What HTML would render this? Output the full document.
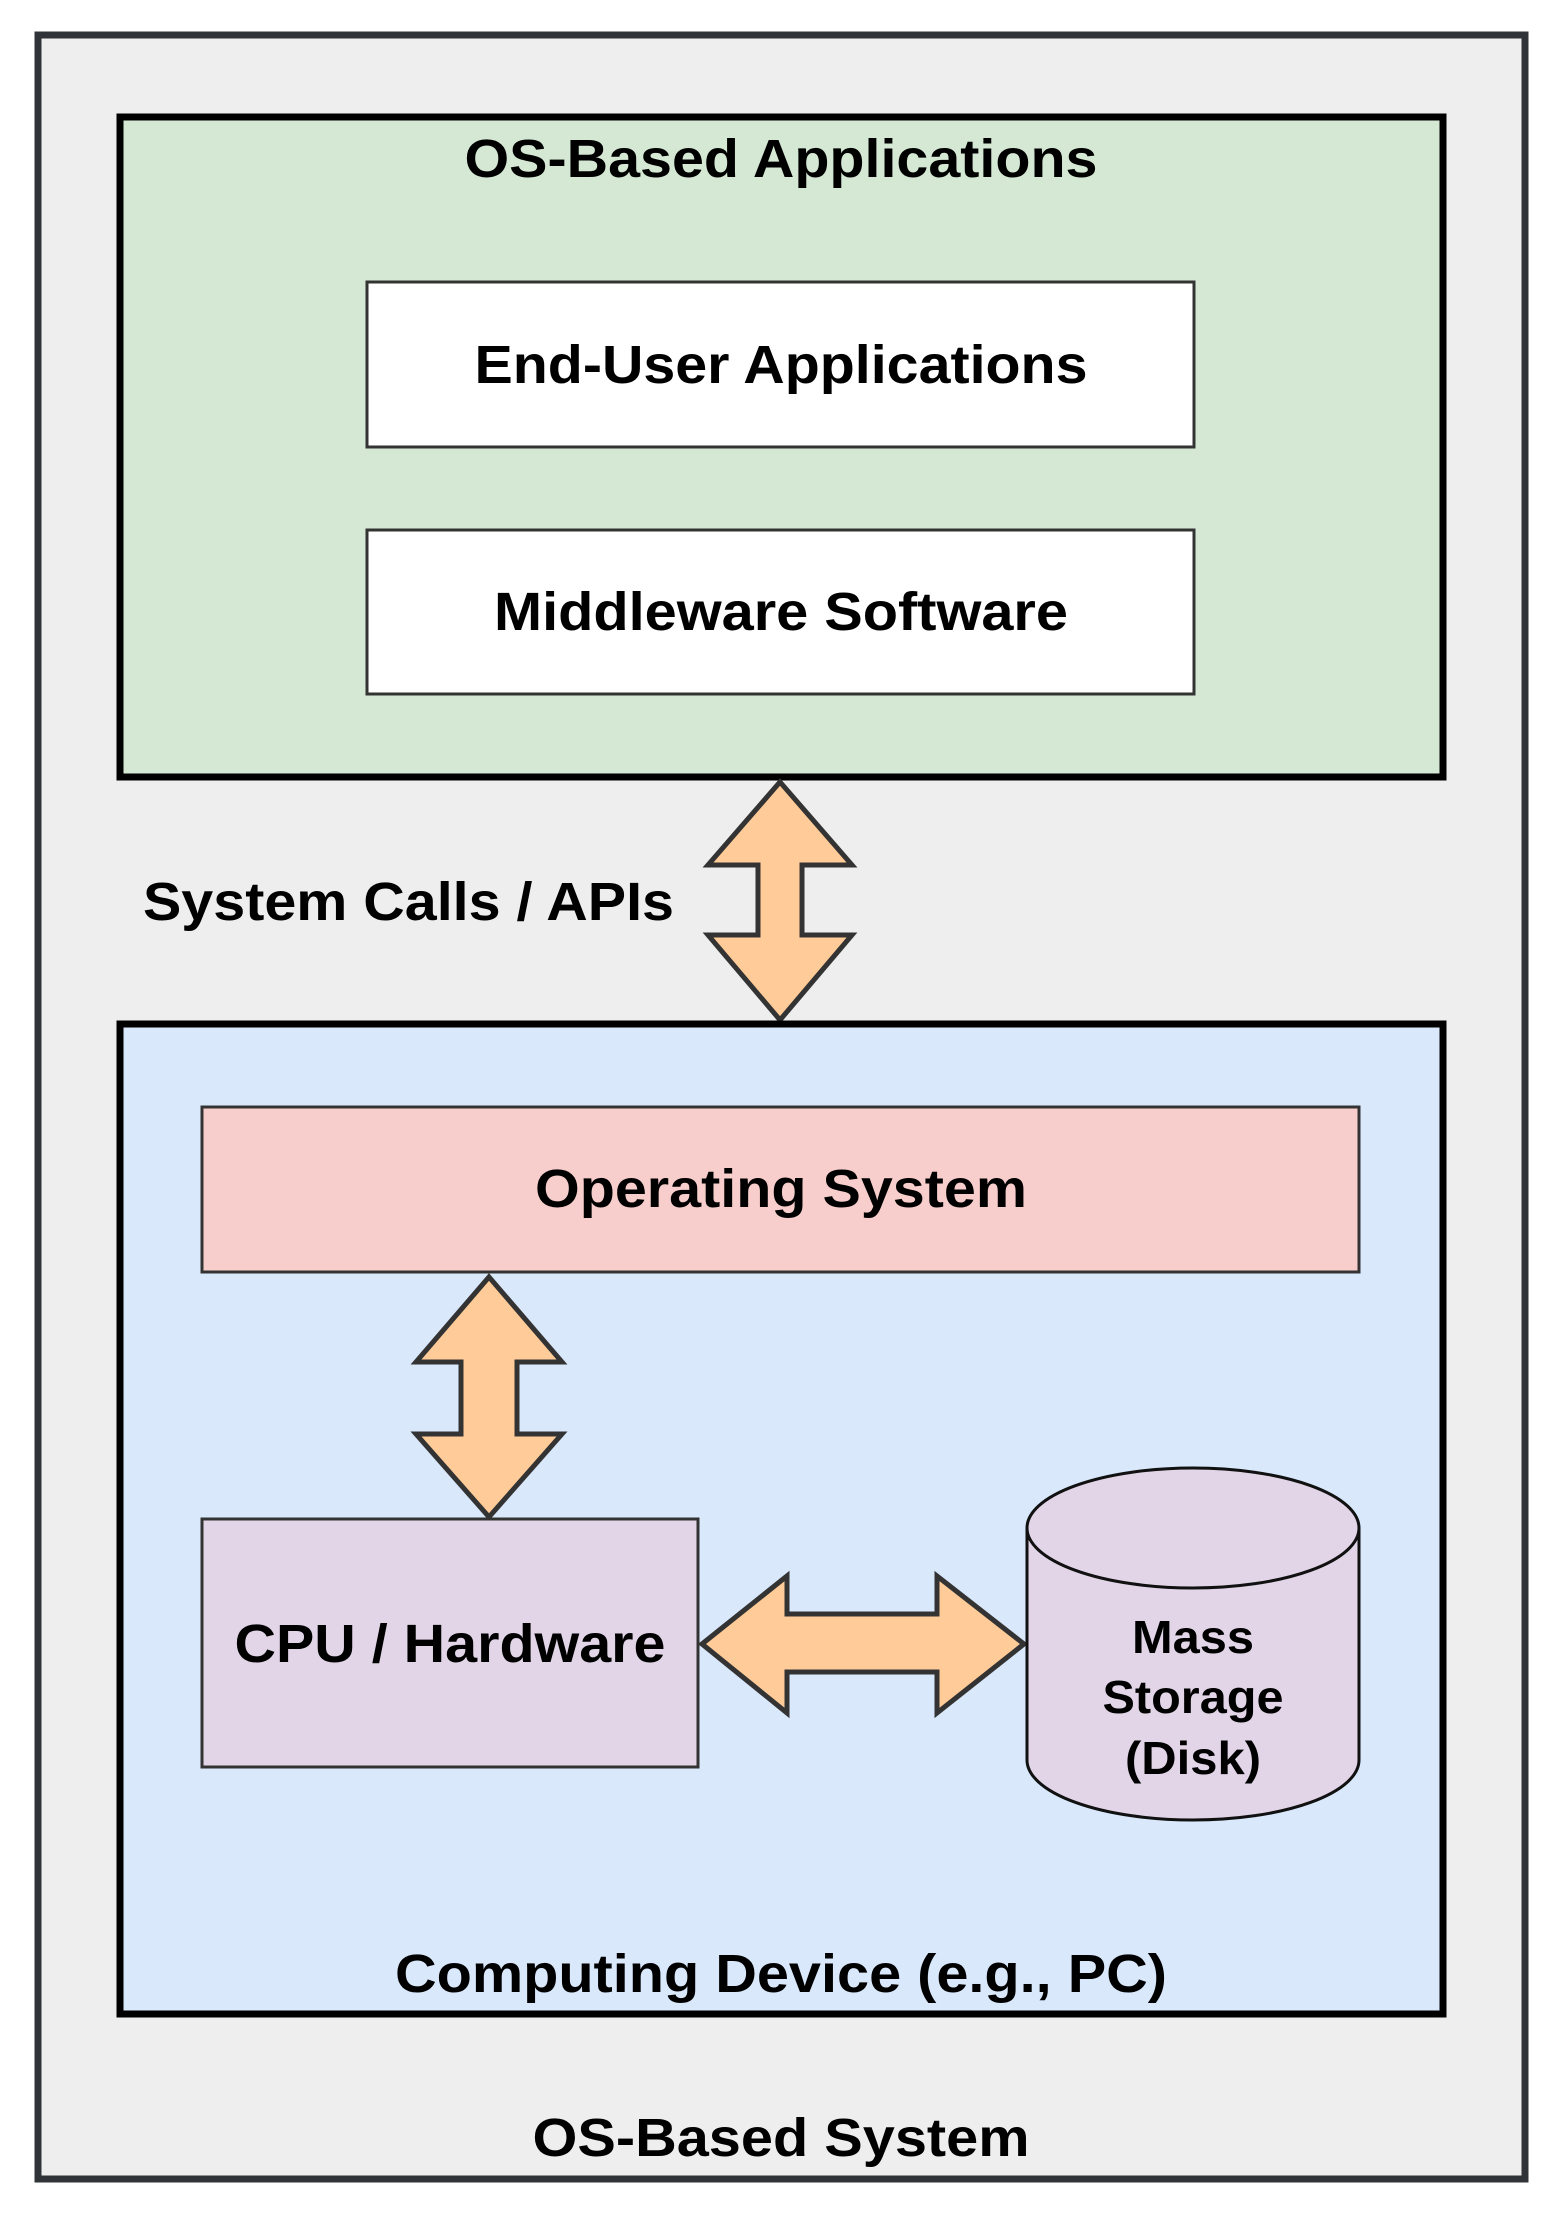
<!DOCTYPE html>
<html><head><meta charset="utf-8"><style>html,body{margin:0;padding:0;background:#fff}svg{display:block}</style></head>
<body>
<svg width="1553" height="2222" viewBox="0 0 1553 2222" xmlns="http://www.w3.org/2000/svg" font-family="Liberation Sans, Arial, sans-serif" font-weight="bold" fill="#000">
<rect x="38" y="35" width="1487" height="2144" fill="#eeeeee" stroke="#303438" stroke-width="7"/>
<rect x="120" y="117" width="1323" height="660" fill="#d5e8d4" stroke="#000" stroke-width="7"/>
<text x="781" y="177" font-size="54" text-anchor="middle" textLength="633" lengthAdjust="spacingAndGlyphs">OS-Based Applications</text>
<rect x="367" y="282" width="827" height="165" fill="#fff" stroke="#333" stroke-width="3"/>
<text x="781" y="383" font-size="54" text-anchor="middle" textLength="613" lengthAdjust="spacingAndGlyphs">End-User Applications</text>
<rect x="367" y="530" width="827" height="164" fill="#fff" stroke="#333" stroke-width="3"/>
<text x="781" y="630" font-size="54" text-anchor="middle" textLength="574" lengthAdjust="spacingAndGlyphs">Middleware Software</text>
<polygon points="780,782 852,865 802,865 802,935 852,935 780,1020 708,935 758,935 758,865 708,865" fill="#ffcc99" stroke="#333" stroke-width="5"/>
<text x="143" y="920" font-size="54" textLength="531" lengthAdjust="spacingAndGlyphs">System Calls / APIs</text>
<rect x="120" y="1024" width="1323" height="990" fill="#dae8fc" stroke="#000" stroke-width="7"/>
<rect x="202" y="1107" width="1157" height="165" fill="#f8cecc" stroke="#333" stroke-width="3"/>
<text x="781" y="1207" font-size="54" text-anchor="middle" textLength="492" lengthAdjust="spacingAndGlyphs">Operating System</text>
<polygon points="489,1277 562,1362 517,1362 517,1434 562,1434 489,1517 416,1434 461,1434 461,1362 416,1362" fill="#ffcc99" stroke="#333" stroke-width="5"/>
<rect x="202" y="1519" width="496" height="248" fill="#e1d5e7" stroke="#333" stroke-width="3"/>
<text x="450" y="1662" font-size="54" text-anchor="middle" textLength="431" lengthAdjust="spacingAndGlyphs">CPU / Hardware</text>
<polygon points="702,1644 787,1576 787,1614 937,1614 937,1576 1024,1644 937,1713 937,1672 787,1672 787,1713" fill="#ffcc99" stroke="#333" stroke-width="5"/>
<path d="M1027,1528 L1027,1760 A166,60 0 0 0 1359,1760 L1359,1528 A166,60 0 0 0 1027,1528 Z" fill="#e1d5e7" stroke="#111" stroke-width="3"/>
<path d="M1027,1528 A166,60 0 0 0 1359,1528" fill="none" stroke="#111" stroke-width="3"/>
<text x="1193" y="1653" font-size="46" text-anchor="middle" textLength="122" lengthAdjust="spacingAndGlyphs">Mass</text>
<text x="1193" y="1713" font-size="46" text-anchor="middle" textLength="181" lengthAdjust="spacingAndGlyphs">Storage</text>
<text x="1193" y="1774" font-size="46" text-anchor="middle" textLength="136" lengthAdjust="spacingAndGlyphs">(Disk)</text>
<text x="781" y="1992" font-size="54" text-anchor="middle" textLength="772" lengthAdjust="spacingAndGlyphs">Computing Device (e.g., PC)</text>
<text x="781" y="2156" font-size="54" text-anchor="middle" textLength="497" lengthAdjust="spacingAndGlyphs">OS-Based System</text>
</svg>
</body></html>
